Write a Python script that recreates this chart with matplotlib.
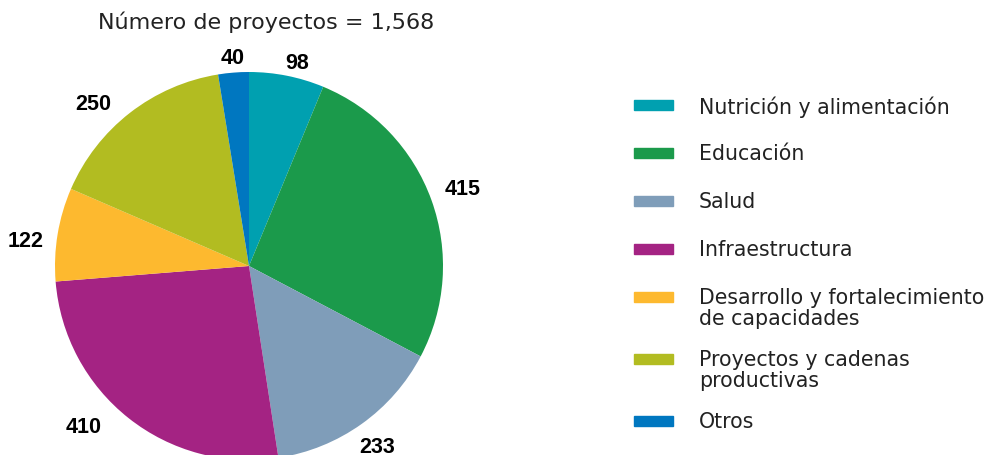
import matplotlib
matplotlib.use("Agg")
import numpy as np
import matplotlib.pyplot as plt
from matplotlib.patches import Rectangle

# datos del grafico
categorias = [
    "Nutrición y alimentación",
    "Educación",
    "Salud",
    "Infraestructura",
    "Desarrollo y fortalecimiento\nde capacidades",
    "Proyectos y cadenas\nproductivas",
    "Otros",
]
proyectos = [98, 415, 233, 410, 122, 250, 40]
colores = ["#00A0B0", "#1B9A4B", "#7F9DB9", "#A42383", "#FDB92F", "#B2BC21", "#0077C0"]
titulo = "Número de proyectos = 1,568"

W, H = 993, 456
fig = plt.figure(figsize=(W / 100, H / 100), dpi=100)

ax = fig.add_axes([55 / W, -5 / H, 388 / W, 388 / H])
wedges, _ = ax.pie(proyectos, colors=colores, startangle=90, counterclock=False,
                   radius=1, wedgeprops=dict(linewidth=0))
ax.set_xlim(-1, 1)
ax.set_ylim(-1, 1)
ax.set_aspect("equal")
ax.axis("off")

# etiquetas de valor fuera del pastel
dist = [1.08, 1.17, 1.14, 1.19, 1.16, 1.16, 1.08]
desv = [-2, 0, 0, -7.5, 3, 6, 0]
for w, v, r, d in zip(wedges, proyectos, dist, desv):
    ang = np.deg2rad((w.theta1 + w.theta2) / 2 + d)
    ax.text(r * np.cos(ang), r * np.sin(ang), str(v), ha="center", va="center",
            fontsize=15.5, fontweight="bold", family="Liberation Sans", clip_on=False)

fig.text(266 / W, 1 - 22 / H, titulo, ha="center", va="center", fontsize=16,
         color="#222222")

# leyenda manual
y = 106
for cat, col in zip(categorias, colores):
    fig.patches.append(Rectangle((634 / W, 1 - (y + 5) / H), 39 / W, 10 / H,
                                 transform=fig.transFigure, color=col))
    fig.text(699 / W, 1 - (y - 10) / H, cat, ha="left", va="top", fontsize=14.8,
             linespacing=1.05, color="#222222")
    y += 48 + 14 * cat.count("\n")

fig.savefig("out.png", dpi=100)
